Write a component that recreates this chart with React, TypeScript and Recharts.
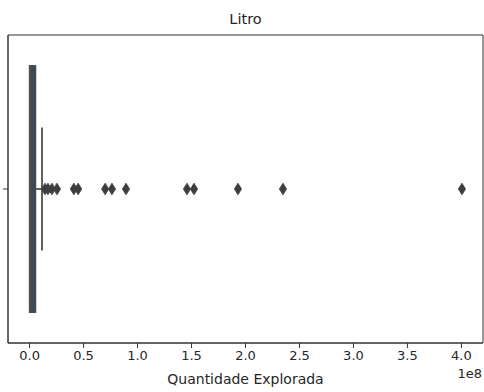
import React from "react";
import {
  ScatterChart,
  Scatter,
  XAxis,
  YAxis,
  ReferenceArea,
  ReferenceLine,
} from "recharts";

// Box statistics (values in units of 1e8)
const boxStats = { low: 0.0, q1: 0.0, median: 0.008, q3: 0.055, high: 0.115 };
const outlierValues = [
  0.143, 0.17, 0.207, 0.254, 0.41, 0.45, 0.7, 0.763, 0.893, 1.458, 1.523, 1.93,
  2.347, 4.005,
];
const xTicks = [0, 0.5, 1.0, 1.5, 2.0, 2.5, 3.0, 3.5, 4.0];
const SCALE = 1e8;

const outliers = outlierValues.map((v) => ({ x: v * SCALE, y: 0 }));

const FONT = "'DejaVu Sans', sans-serif";
const TEXT = "#262626";
const LINE = "#4f4f4f";
const BOX = "#3b4a54";
const SPINE = "#333333";

const Diamond = (props: any) => {
  const { cx, cy } = props;
  const w = 3.6;
  const h = 5.8;
  return (
    <polygon
      points={`${cx},${cy - h} ${cx + w},${cy} ${cx},${cy + h} ${cx - w},${cy}`}
      fill="#3d3d3d"
      stroke="#3d3d3d"
      strokeWidth={0.8}
    />
  );
};

export default function App() {
  return (
    <div
      style={{
        position: "absolute",
        left: 0,
        top: 0,
        width: 484,
        height: 392,
        background: "#fff",
        fontFamily: FONT,
      }}
    >
      <ScatterChart
        width={484}
        height={392}
        margin={{ top: 35, right: 1, bottom: 0, left: 0 }}
      >
        <XAxis
          type="number"
          dataKey="x"
          domain={[-0.2 * SCALE, 4.2 * SCALE]}
          ticks={xTicks.map((t) => t * SCALE)}
          tickFormatter={(v: number) => (v / SCALE).toFixed(1)}
          height={49}
          tickSize={5}
          tickMargin={3}
          stroke={SPINE}
          tick={{ fill: TEXT, fontSize: 13, fontFamily: FONT }}
          allowDataOverflow
        />
        <YAxis
          type="number"
          dataKey="y"
          domain={[-0.5, 0.5]}
          ticks={[0]}
          tickFormatter={() => ""}
          width={8}
          tickSize={5}
          stroke={SPINE}
          allowDataOverflow
        />
        <ReferenceArea
          x1={-0.2 * SCALE}
          x2={4.2 * SCALE}
          y1={-0.5}
          y2={0.5}
          fill="none"
          stroke={SPINE}
          strokeWidth={1}
          ifOverflow="visible"
        />
        <ReferenceLine
          segment={[
            { x: boxStats.q3 * SCALE, y: 0 },
            { x: boxStats.high * SCALE, y: 0 },
          ]}
          stroke={LINE}
          strokeWidth={1.8}
        />
        <ReferenceLine
          segment={[
            { x: boxStats.high * SCALE, y: -0.2 },
            { x: boxStats.high * SCALE, y: 0.2 },
          ]}
          stroke={LINE}
          strokeWidth={1.8}
        />
        <ReferenceArea
          x1={boxStats.q1 * SCALE}
          x2={boxStats.q3 * SCALE}
          y1={-0.4}
          y2={0.4}
          fill={BOX}
          fillOpacity={1}
          stroke={LINE}
          strokeWidth={1.5}
        />
        <ReferenceLine
          segment={[
            { x: boxStats.median * SCALE, y: -0.4 },
            { x: boxStats.median * SCALE, y: 0.4 },
          ]}
          stroke={LINE}
          strokeWidth={1.5}
        />
        <Scatter
          data={outliers}
          shape={<Diamond />}
          isAnimationActive={false}
        />
      </ScatterChart>
      <div
        style={{
          position: "absolute",
          left: 8,
          width: 475,
          top: 9,
          textAlign: "center",
          fontSize: 14.5,
          color: TEXT,
          lineHeight: "20px",
        }}
      >
        Litro
      </div>
      <div
        style={{
          position: "absolute",
          left: 8,
          width: 475,
          top: 369,
          textAlign: "center",
          fontSize: 14,
          color: TEXT,
          lineHeight: "20px",
        }}
      >
        Quantidade Explorada
      </div>
      <div
        style={{
          position: "absolute",
          right: 2,
          top: 364,
          fontSize: 13,
          color: TEXT,
          lineHeight: "20px",
        }}
      >
        1e8
      </div>
    </div>
  );
}
